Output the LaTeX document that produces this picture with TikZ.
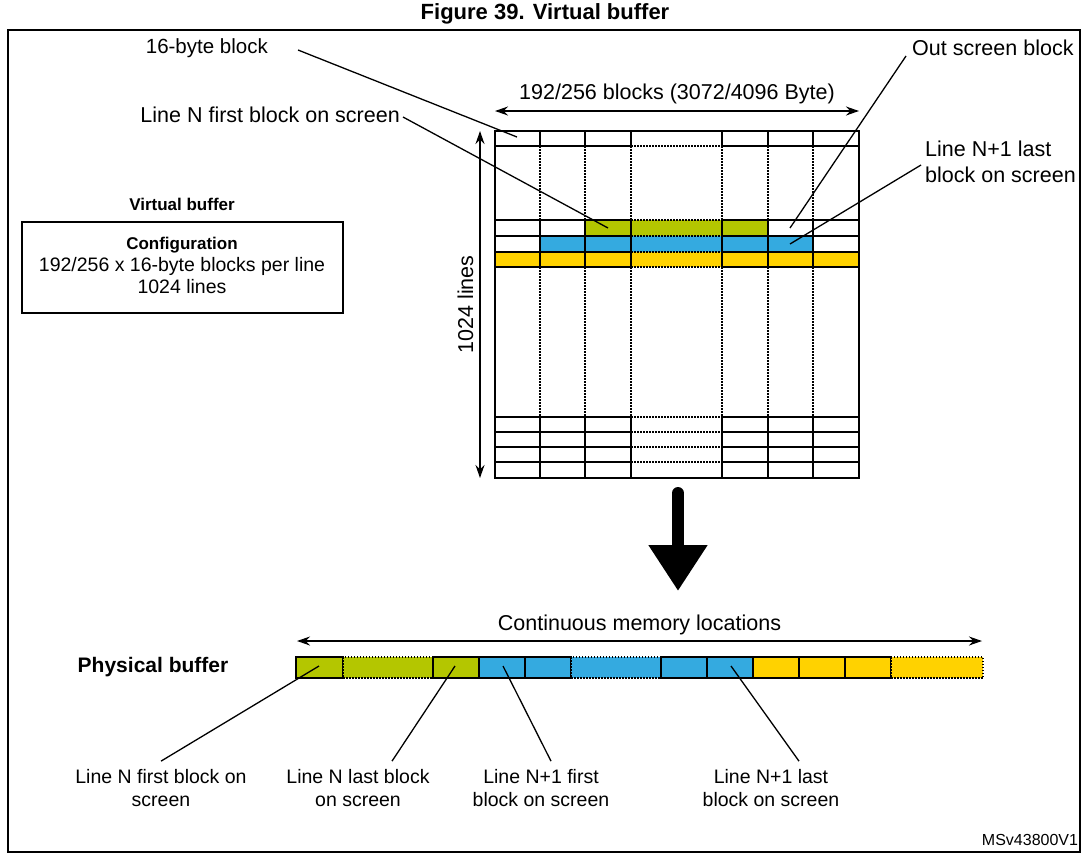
\documentclass[tikz,border=0pt]{standalone}
\usepackage{fontspec}
\setmainfont{Liberation Sans}
\usetikzlibrary{arrows.meta}
\definecolor{cgreen}{RGB}{180,198,0}
\definecolor{cblue}{RGB}{52,170,224}
\definecolor{cyellow}{RGB}{255,210,0}
\tikzset{
  txt/.style={inner sep=0pt,align=center},
  lead/.style={line width=1.3},
  grid/.style={line width=1.6},
  dots/.style={line width=1.3,dash pattern=on 1.5pt off 1.5pt},
  dimarr/.style={line width=1.3,{Stealth[length=13pt,width=9pt]}-{Stealth[length=13pt,width=9pt]}},
}
\begin{document}
\begin{tikzpicture}[x=1pt,y=-1pt,font=\fontsize{21.5}{26}\selectfont]
\useasboundingbox (0,0) rectangle (1089,863);
\node[txt,font=\fontsize{22}{26}\selectfont\bfseries] (title) at (545,14) {Figure 39. Virtual buffer};
\draw[line width=1.6] (8,30) rectangle (1080,852);
\node[txt,font=\fontsize{16}{20}\selectfont] (ref) at (1030,840) {MSv43800V1};

% virtual buffer grid
\fill[cgreen] (585,220) rectangle (768,236);
\fill[cblue] (540,236) rectangle (813,252);
\fill[cyellow] (495,252) rectangle (859,267);
\foreach \y in {146,220,236,252,267,417,432,447,462} {
  \draw[grid] (495,\y) -- (631,\y);
  \draw[dots] (631,\y) -- (722,\y);
  \draw[grid] (722,\y) -- (859,\y);
}
\foreach \x in {540,585,631,722,768,813} {
  \draw[grid] (\x,131) -- (\x,146);
  \draw[dots] (\x,146) -- (\x,220);
  \draw[grid] (\x,220) -- (\x,267);
  \draw[dots] (\x,267) -- (\x,417);
  \draw[grid] (\x,417) -- (\x,478);
}
\draw[grid] (495,131) rectangle (859,478);
\coordinate (blk) at (517,137);
\coordinate (first) at (608,228);
\coordinate (out) at (790,228);
\coordinate (last) at (790,244);
\coordinate (gl) at (495,111);
\coordinate (gr) at (859,111);
\coordinate (gt) at (480,131);
\coordinate (gb) at (480,478);
\draw[dimarr] (gl) -- node[above=6pt,txt] (width) {192/256 blocks (3072/4096 Byte)} (gr);
\draw[dimarr] (gt) -- node[left=6pt,txt,rotate=90,anchor=south] (height) {1024 lines} (gb);

\node[txt,anchor=east,font=\fontsize{20.5}{24}\selectfont] (l16) at (268,48) {16-byte block};
\node[txt,anchor=east] (lfirst) at (400,115) {Line N first block on screen};
\node[txt,anchor=west] (lout) at (912,48) {Out screen block};
\node[txt,anchor=west,align=left] (llast) at (925,162) {Line N+1 last\\block on screen};
\draw[lead] (l16.east) ++(30,2) -- (blk);
\draw[lead] (lfirst.east) ++(3,2) -- (first);
\draw[lead] (lout.west) ++(-6,8) -- (out);
\draw[lead] (llast.west) ++(-4,3) -- (last);

% configuration box
\node[txt,font=\fontsize{17}{20}\selectfont\bfseries] (vb) at (182,204) {Virtual buffer};
\draw[line width=1.4] (22,222) rectangle (343,313);
\node[txt,font=\fontsize{19.5}{22}\selectfont] (cfg) at (182,265) {{\fontsize{17}{20}\selectfont\bfseries Configuration}\\192/256 x 16-byte blocks per line\\1024 lines};

% big arrow
\coordinate (dtop) at (678,493);
\coordinate (dbot) at (678,591);
\draw[line width=12,line cap=round,-{Triangle[length=46pt,width=56pt]}] (dtop) -- (dbot);

% physical buffer
\node[txt,font=\fontsize{21}{26}\selectfont\bfseries] (pb) at (153,667) {Physical buffer};
\coordinate (ml) at (297,641);
\coordinate (mr) at (982,641);
\draw[dimarr] (ml) -- node[above=5pt,txt] (mem) {Continuous memory locations} (mr);
\foreach \a/\b/\c/\s in {296/343/cgreen/grid,343/433/cgreen/dots,433/479/cgreen/grid,
  479/525/cblue/grid,525/571/cblue/grid,571/661/cblue/dots,661/707/cblue/grid,707/753/cblue/grid,
  753/799/cyellow/grid,799/845/cyellow/grid,845/891/cyellow/grid,891/983/cyellow/dots}
  \draw[\s,fill=\c] (\a,657) rectangle (\b,678);
\coordinate (p1) at (319,666);
\coordinate (p2) at (455,666);
\coordinate (p3) at (503,666);
\coordinate (p4) at (731,666);
\begin{scope}[font=\fontsize{19.5}{23}\selectfont]
\node[txt] (b1) at (161,788) {Line N first block on\\screen};
\node[txt] (b2) at (358,788) {Line N last block\\on screen};
\node[txt] (b3) at (541,788) {Line N+1 first\\block on screen};
\node[txt] (b4) at (771,788) {Line N+1 last\\block on screen};
\end{scope}
\draw[lead] (b1.north) ++(0,-8) -- (p1);
\draw[lead] (b2.north) ++(34,-8) -- (p2);
\draw[lead] (b3.north) ++(10,-8) -- (p3);
\draw[lead] (b4.north) ++(28,-8) -- (p4);
\end{tikzpicture}
\end{document}
